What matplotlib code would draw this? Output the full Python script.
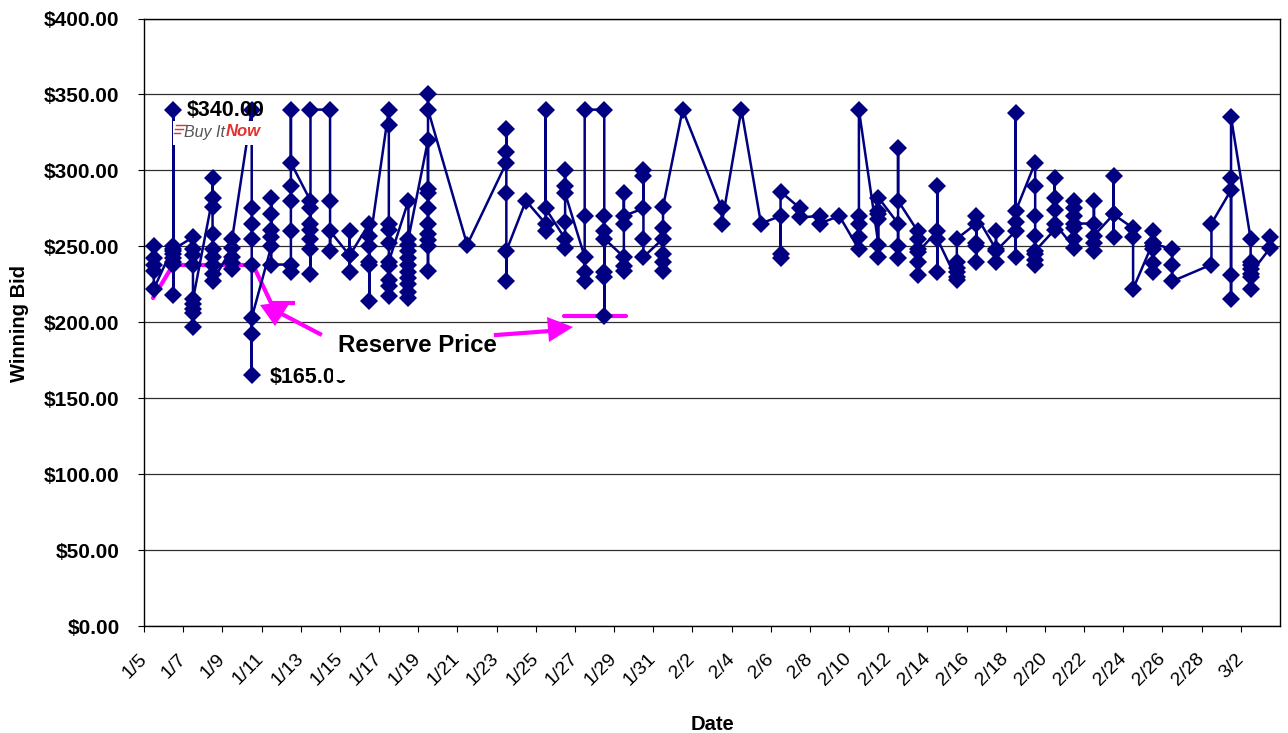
import matplotlib
matplotlib.use('Agg')
import matplotlib.pyplot as plt
from matplotlib.lines import Line2D
from matplotlib.patches import Polygon, Rectangle
from matplotlib.transforms import ScaledTranslation

# one label per category, 1/5 .. 3/3
dates = ['1/%d' % d for d in range(5, 32)] + ['2/%d' % d for d in range(1, 29)] + ['3/%d' % d for d in range(1, 4)]

# winning bids in the order they are joined up, per day index
days = [0, 1, 2, 3, 4, 5, 6, 7, 8, 9, 10, 11, 12, 13, 14, 16, 18, 19, 20, 21, 22, 23, 24, 25, 26, 27,
        29, 30, 31, 32, 33, 34, 35, 36, 37, 38, 39, 40, 41, 42, 43, 44, 45, 46, 47, 48, 49, 50, 51, 52,
        54, 55, 56, 57]
bids = [
    [250, 242, 238, 234, 222],
    [250, 247, 245, 242, 240, 218, 238, 340, 248],
    [256, 248, 244, 238, 197, 206, 209, 212, 215],
    [282, 276, 295, 258, 248, 243, 238, 232, 227],
    [249, 243, 239, 235, 255],
    [340, 275, 265, 255, 238, 165, 192, 203],
    [250, 282, 271, 261, 256, 238],
    [238, 233, 260, 280, 290, 340, 305],
    [280, 275, 265, 261, 255, 248, 232, 340],
    [340, 280, 247, 260],
    [244, 233, 260, 244],
    [265, 257, 238, 240, 214, 250],
    [340, 330, 265, 261, 252, 228, 224, 217, 237, 240],
    [280, 216, 220, 225, 229, 233, 238, 242, 247, 251, 255],
    [320, 288, 285, 275, 265, 258, 254, 250, 234, 350, 340],
    [251],
    [305, 327, 312, 285, 227, 247],
    [280],
    [265, 260, 340, 275],
    [255, 249, 266, 300, 290, 285],
    [243, 233, 227, 270, 340],
    [340, 270, 260, 204, 233, 230, 255],
    [243, 237, 234, 285, 265, 270],
    [275, 300, 296, 255, 243],
    [255, 262, 245, 240, 234, 276],
    [340],
    [275, 265],
    [340],
    [265],
    [270, 245, 242, 286],
    [275, 269],
    [270, 265],
    [270],
    [248, 256, 265, 270, 340],
    [251, 243, 271, 268, 273, 282],
    [265, 250, 242, 315, 280],
    [260, 255, 248, 231, 240, 246],
    [260, 290, 233, 255],
    [228, 230, 233, 236, 240, 255],
    [265, 252, 250, 240, 270],
    [248, 260, 240, 247],
    [260, 243, 338, 266, 273],
    [305, 290, 270, 257, 238, 241, 245, 247],
    [261, 295, 282, 274, 265],
    [249, 255, 280, 275, 270, 262, 265],
    [265, 280, 247, 252, 257],
    [271, 296, 256, 271],
    [262, 256, 222],
    [252, 260, 239, 233, 248, 250, 252],
    [248, 238, 227],
    [238, 265],
    [287, 215, 231, 295, 335],
    [255, 240, 238, 235, 230, 222, 232],
    [249, 256],
]

y_ticks = [0, 50, 100, 150, 200, 250, 300, 350, 400]

W, H = 1288, 733
FONT = 'Liberation Sans'
plt.rcParams['font.family'] = [FONT, 'DejaVu Sans']


def px(x, y):
    # reference pixel -> figure fraction
    return x / W, 1 - y / H


x_vals = []
y_vals = []
for d, vals in zip(days, bids):
    for v in vals:
        x_vals.append(d + 0.5)
        y_vals.append(v)

fig = plt.figure(figsize=(W / 100, H / 100), dpi=100)
box = [144 / W, 1 - 626 / H, (1280 - 144) / W, (626 - 18.5) / H]
ax = fig.add_axes(box)

ax.plot(x_vals, y_vals, color='#000080', lw=1.8, marker='D', ms=9, mew=0, zorder=3, clip_on=False)

ax.set_xlim(0, len(dates))
ax.set_ylim(0, 400)
ax.set_yticks(y_ticks)
ax.set_yticklabels(['$%d.00' % v for v in y_ticks], fontsize=15, fontweight='bold')
ax.set_xticks(range(0, len(dates), 2))
ax.set_xticklabels(dates[::2], fontsize=14, rotation=45, ha='right', rotation_mode='anchor', va='top')
ax.tick_params(axis='y', length=4.5, width=0.8, pad=13)
ax.tick_params(axis='x', length=4.5, width=0.8, pad=13)
for lab in ax.get_xticklabels():
    lab.set_transform(lab.get_transform() + ScaledTranslation(-6 / 100, 0, fig.dpi_scale_trans))
ax.grid(axis='y', color='#303030', lw=0.9, zorder=0)
ax.set_axisbelow(True)
for s in ax.spines.values():
    s.set_linewidth(1.0)
    s.set_color('black')
ax.set_zorder(2)
ax.patch.set_alpha(0)

fig.text(*px(712, 724), 'Date', fontsize=14.5, fontweight='bold', ha='center', va='center')
fig.text(*px(20, 324), 'Winning Bid', fontsize=14.5, fontweight='bold', ha='center', va='center', rotation=90)

# reserve price steps, drawn by hand on the original
MAGENTA = '#FF00FF'
stair_x = [153, 173, 253, 273]
stair_y = [298, 265, 265, 307]
fig.add_artist(Line2D([x / W for x in stair_x], [1 - y / H for y in stair_y], color=MAGENTA, lw=3,
                      solid_capstyle='round', zorder=1.5))
fig.add_artist(Line2D([273 / W, 293 / W], [1 - 303 / H] * 2, color=MAGENTA, lw=3, zorder=1.5))
fig.add_artist(Line2D([564 / W, 626 / W], [1 - 316.5 / H] * 2, color=MAGENTA, lw=3,
                      solid_capstyle='round', zorder=1.5))

# white boxes of the pasted logo and the text label, these hide part of the lines
top = 10
fig.add_artist(Rectangle(px(173, 145), 89 / W, 24 / H, color='white', lw=0, zorder=top))
fig.add_artist(Rectangle(px(333, 380), 164 / W, 48 / H, color='white', lw=0, zorder=top + 2))

# labels of the two extreme points live on a clear axes above the boxes
over = fig.add_axes(box, frameon=False, zorder=top + 1)
over.set_xlim(ax.get_xlim())
over.set_ylim(ax.get_ylim())
over.set_xticks([])
over.set_yticks([])
over.annotate('$340.00', (1.5, 340), xytext=(13, -11), textcoords='offset pixels', fontsize=15.5,
              fontweight='bold', ha='left', va='bottom')
over.annotate('$165.00', (5.5, 165), xytext=(18, -2), textcoords='offset pixels', fontsize=15.5,
              fontweight='bold', ha='left', va='center')

fig.text(*px(338, 345), 'Reserve Price', fontsize=17.3, fontweight='bold', ha='left', va='center', zorder=top + 3)

# Buy It Now logo
fig.text(*px(184, 132), 'Buy It', fontsize=11.5, style='italic', color='#555555',
         ha='left', va='center', zorder=top + 1)
fig.text(*px(226, 132), 'Now', fontsize=12, style='italic', color='#E53030', fontweight='bold',
         ha='left', va='center', zorder=top + 1)
for bx, by, bw in [(176, 125, 10), (175, 129, 8), (174, 133, 6)]:
    fig.add_artist(Line2D([bx / W, (bx + bw) / W], [1 - by / H] * 2, color='#E53030', lw=1, zorder=top + 1))

# arrows
fig.add_artist(Line2D([320 / W, 278 / W], [1 - 334 / H, 1 - 312 / H], color=MAGENTA, lw=3, zorder=top + 1))
fig.add_artist(Polygon([px(260, 305), px(291, 301), px(275, 326)], closed=True, color=MAGENTA, lw=0, zorder=top + 1))
fig.add_artist(Line2D([496 / W, 550 / W], [1 - 335 / H, 1 - 331 / H], color=MAGENTA, lw=3, zorder=top + 4))
fig.add_artist(Polygon([px(573, 327), px(547, 317), px(549, 342)], closed=True, color=MAGENTA, lw=0, zorder=top + 4))

fig.savefig('out.png', dpi=100)
